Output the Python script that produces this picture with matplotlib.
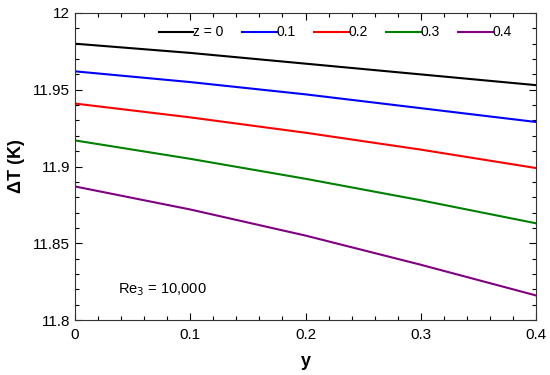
import matplotlib.pyplot as plt
from matplotlib.ticker import MultipleLocator, FixedFormatter, FixedLocator

plt.rcParams['font.family'] = ['Liberation Sans', 'DejaVu Sans']

# dane
y_pos = [0.0, 0.1, 0.2, 0.3, 0.4]
dT_z0 = [11.980, 11.974, 11.967, 11.960, 11.953]
dT_z01 = [11.962, 11.955, 11.947, 11.938, 11.929]
dT_z02 = [11.941, 11.932, 11.922, 11.911, 11.899]
dT_z03 = [11.917, 11.905, 11.892, 11.878, 11.863]
dT_z04 = [11.887, 11.872, 11.855, 11.836, 11.816]

etykiety = ['z = 0', '0.1', '0.2', '0.3', '0.4']
kolory = ['black', 'blue', 'red', 'green', 'purple']
serie = [dT_z0, dT_z01, dT_z02, dT_z03, dT_z04]

fig = plt.figure(figsize=(5.5, 3.75), dpi=100)
ax = fig.add_axes([75 / 550, 1 - 320 / 375, 461 / 550, 307 / 375])

for dane, kol, et in zip(serie, kolory, etykiety):
    ax.plot(y_pos, dane, color=kol, lw=1.5, label=et)

ax.set_xlim(0, 0.4)
ax.set_ylim(11.8, 12.0)
ax.set_xticks([0, 0.1, 0.2, 0.3, 0.4])
ax.xaxis.set_major_formatter(FixedFormatter(['0', '0.1', '0.2', '0.3', '0.4']))
ax.xaxis.set_minor_locator(MultipleLocator(0.02))
ax.yaxis.set_major_locator(FixedLocator([11.8, 11.85, 11.9, 11.95, 12.0]))
ax.yaxis.set_major_formatter(FixedFormatter(['11.8', '11.85', '11.9', '11.95', '12']))
ax.yaxis.set_minor_locator(MultipleLocator(0.01))

ax.tick_params(which='both', direction='in', top=True, right=True, labelsize=11)
ax.tick_params(which='major', length=5, width=0.8)
ax.tick_params(which='minor', length=3, width=0.8)
ax.tick_params(axis='x', pad=6)
for s in ax.spines.values():
    s.set_color('#333333')

ax.set_xlabel('y', fontsize=13, fontweight='bold', labelpad=8)
ax.set_ylabel('ΔT (K)', fontsize=13, fontweight='bold', labelpad=6)

ax.text(0.037, 11.820, 'Re$_3$ = 10,000', fontsize=10.5, va='center')

ax.legend(loc='upper right', ncol=5, frameon=False, fontsize=10,
          handlelength=2.5, handletextpad=0.0, columnspacing=1.3,
          bbox_to_anchor=(0.975, 1.0))

fig.savefig('out.png', dpi=100)
